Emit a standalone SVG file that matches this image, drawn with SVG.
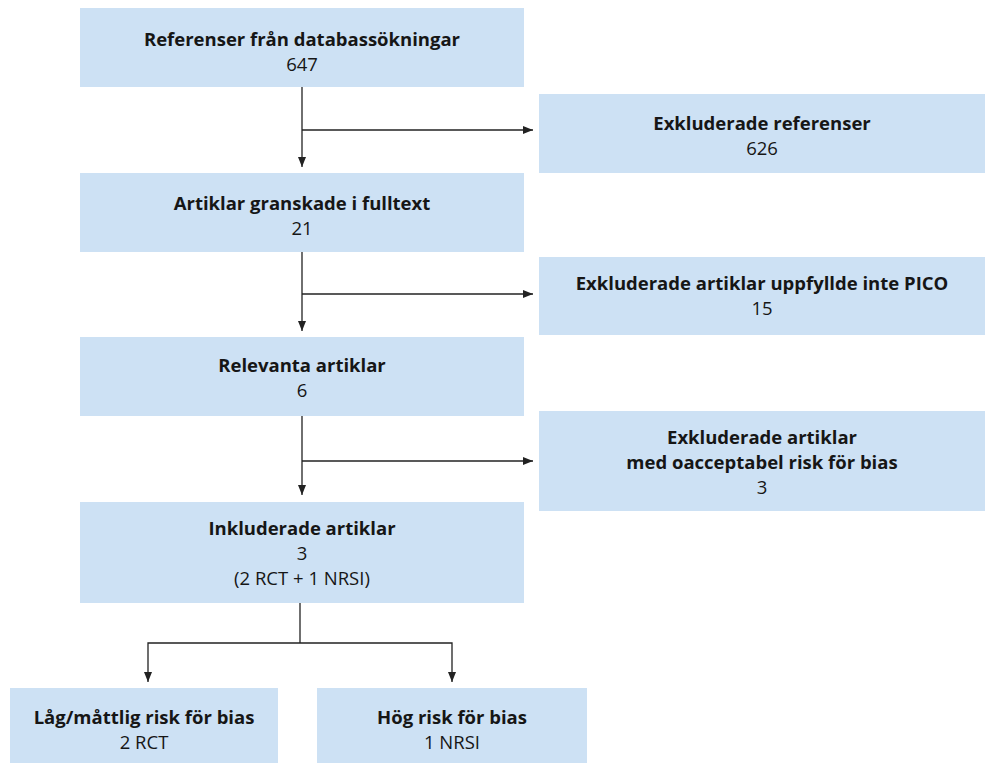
<svg xmlns="http://www.w3.org/2000/svg" width="988" height="763" viewBox="0 0 988 763">
  <style>
    .box { fill: #cde1f4; }
    .t { font-family: "Open Sans", "Noto Sans", "Liberation Sans", sans-serif; font-size: 18.5px; fill: #161616; text-anchor: middle; }
    .b { font-weight: 700; }
    .link { fill: none; stroke: #222; stroke-width: 1.3; }
  </style>
  <defs>
    <marker id="arrow" markerUnits="userSpaceOnUse" markerWidth="10" markerHeight="10" viewBox="0 0 10 10" refX="10" refY="5" orient="auto">
      <path d="M0,1 L10,5 L0,9 Z" fill="#222"/>
    </marker>
  </defs>

  <!-- main column -->
  <g id="node-referenser">
    <rect class="box" x="80" y="8" width="444" height="79"/>
    <text class="t b" x="302" y="46">Referenser från databassökningar</text>
    <text class="t" x="302" y="71">647</text>
  </g>
  <g id="node-fulltext">
    <rect class="box" x="80" y="173" width="444" height="79"/>
    <text class="t b" x="302" y="210">Artiklar granskade i fulltext</text>
    <text class="t" x="302" y="235">21</text>
  </g>
  <g id="node-relevanta">
    <rect class="box" x="80" y="337" width="444" height="79"/>
    <text class="t b" x="302" y="372">Relevanta artiklar</text>
    <text class="t" x="302" y="397">6</text>
  </g>
  <g id="node-inkluderade">
    <rect class="box" x="80" y="502" width="444" height="101"/>
    <text class="t b" x="302" y="535">Inkluderade artiklar</text>
    <text class="t" x="302" y="560">3</text>
    <text class="t" x="302" y="585">(2 RCT + 1 NRSI)</text>
  </g>

  <!-- exclusions -->
  <g id="node-exkl-referenser">
    <rect class="box" x="539" y="94" width="446" height="79"/>
    <text class="t b" x="762" y="130">Exkluderade referenser</text>
    <text class="t" x="762" y="155">626</text>
  </g>
  <g id="node-exkl-pico">
    <rect class="box" x="539" y="257" width="446" height="78"/>
    <text class="t b" x="762" y="290">Exkluderade artiklar uppfyllde inte PICO</text>
    <text class="t" x="762" y="315">15</text>
  </g>
  <g id="node-exkl-bias">
    <rect class="box" x="539" y="411" width="446" height="100"/>
    <text class="t b" x="762" y="444">Exkluderade artiklar</text>
    <text class="t b" x="762" y="469">med oacceptabel risk för bias</text>
    <text class="t" x="762" y="494">3</text>
  </g>

  <!-- risk of bias split -->
  <g id="node-lag-risk">
    <rect class="box" x="10" y="688" width="268" height="75"/>
    <text class="t b" x="144" y="724">Låg/måttlig risk för bias</text>
    <text class="t" x="144" y="749">2 RCT</text>
  </g>
  <g id="node-hog-risk">
    <rect class="box" x="317" y="688" width="270" height="75"/>
    <text class="t b" x="452" y="724">Hög risk för bias</text>
    <text class="t" x="452" y="749">1 NRSI</text>
  </g>

  <g id="connectors">
    <path class="link" d="M302,87 V167" marker-end="url(#arrow)"/>
    <path class="link" d="M302,130 H533" marker-end="url(#arrow)"/>
    <path class="link" d="M302,252 V331" marker-end="url(#arrow)"/>
    <path class="link" d="M302,294 H533" marker-end="url(#arrow)"/>
    <path class="link" d="M302,416 V495" marker-end="url(#arrow)"/>
    <path class="link" d="M302,461 H533" marker-end="url(#arrow)"/>
    <path class="link" d="M300,603 V643"/>
    <path class="link" d="M300,643 H148 V682" marker-end="url(#arrow)"/>
    <path class="link" d="M300,643 H452 V682" marker-end="url(#arrow)"/>
  </g>
</svg>
